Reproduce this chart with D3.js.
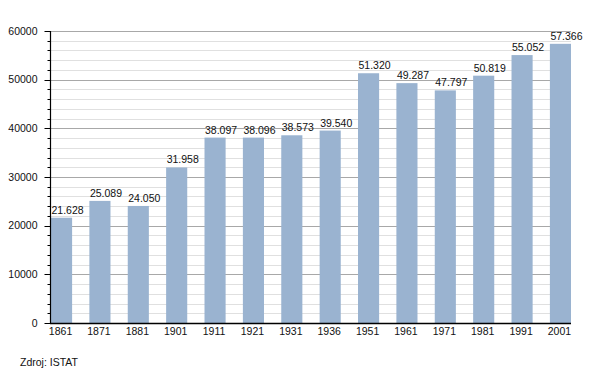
<!DOCTYPE html>
<html>
<head>
<meta charset="utf-8">
<script src="https://cdn.jsdelivr.net/npm/d3@7"></script>
<style>
  body { margin: 0; background: #fff; }
  text { font-family: "Liberation Sans", Arial, sans-serif; fill: #111; }
</style>
</head>
<body>
<svg id="chart"></svg>
<script>
var years = ["1861", "1871", "1881", "1901", "1911", "1921", "1931", "1936",
  "1951", "1961", "1971", "1981", "1991", "2001"];
var population = [21628, 25089, 24050, 31958, 38097, 38096, 38573, 39540,
  51320, 49287, 47797, 50819, 55052, 57366];
var labels = ["21.628", "25.089", "24.050", "31.958", "38.097", "38.096", "38.573", "39.540",
  "51.320", "49.287", "47.797", "50.819", "55.052", "57.366"];
var majorTicks = [0, 10000, 20000, 30000, 40000, 50000, 60000];
var minorTicks = d3.range(0, 60001, 2000);
var source = "Zdroj: ISTAT";

var width = 600;
var height = 373;

var svg = d3.select("#chart")
  .attr("width", width)
  .attr("height", height);

var x = d3.scaleBand()
  .domain(years)
  .range([51, 571])
  .paddingInner(0.45)
  .paddingOuter(0);

var y = d3.scaleLinear()
  .domain([0, 60000])
  .range([323, 31]);

// grid lines
svg.append("g")
  .selectAll("line")
  .data(minorTicks)
  .enter().append("line")
  .attr("x1", 50)
  .attr("x2", 571)
  .attr("y1", d => Math.round(y(d)) + 0.5)
  .attr("y2", d => Math.round(y(d)) + 0.5)
  .attr("stroke", d => d % 10000 == 0 ? "#a8a8a8" : "#e0e0e0")
  .attr("stroke-width", 1);

// bars
svg.append("g")
  .selectAll("rect")
  .data(population)
  .enter().append("rect")
  .attr("x", (d, i) => x(years[i]))
  .attr("y", d => y(d))
  .attr("width", x.bandwidth())
  .attr("height", d => y(0) - y(d))
  .attr("fill", "#9ab3d0");

// value labels (start at the bar's left edge)
svg.append("g")
  .selectAll("text")
  .data(population)
  .enter().append("text")
  .text((d, i) => labels[i])
  .attr("x", (d, i) => x(years[i]) + 0.5)
  .attr("y", d => y(d) - 4)
  .attr("text-anchor", "start")
  .attr("font-size", "10.5px");

// y axis
var yAxis = svg.append("g")
  .attr("transform", "translate(50.5,0)");

yAxis.append("line")
  .attr("y1", y(60000))
  .attr("y2", y(0))
  .attr("stroke", "#000")
  .attr("stroke-width", 1.2);

yAxis.selectAll(".minor")
  .data(minorTicks)
  .enter().append("line")
  .attr("class", "minor")
  .attr("x1", d => d % 10000 == 0 ? -6 : -3)
  .attr("x2", 0)
  .attr("y1", d => Math.round(y(d)) + 0.5)
  .attr("y2", d => Math.round(y(d)) + 0.5)
  .attr("stroke", "#000");

yAxis.selectAll("text")
  .data(majorTicks)
  .enter().append("text")
  .text(d => d)
  .attr("x", -13)
  .attr("y", d => y(d))
  .attr("dy", ".35em")
  .attr("text-anchor", "end")
  .attr("font-size", "10.5px");

// x axis
var xAxis = svg.append("g")
  .attr("transform", "translate(0," + (y(0) + 0.5) + ")");

xAxis.append("line")
  .attr("x1", 50)
  .attr("x2", 571)
  .attr("stroke", "#000")
  .attr("stroke-width", 1.5);

xAxis.selectAll("text")
  .data(years)
  .enter().append("text")
  .text(d => d)
  .attr("x", d => x(d) + x.bandwidth() / 2 - 1)
  .attr("y", 11)
  .attr("text-anchor", "middle")
  .attr("font-size", "10.5px");

svg.append("text")
  .text(source)
  .attr("x", 20)
  .attr("y", 366)
  .attr("font-size", "10.5px");
</script>
</body>
</html>
